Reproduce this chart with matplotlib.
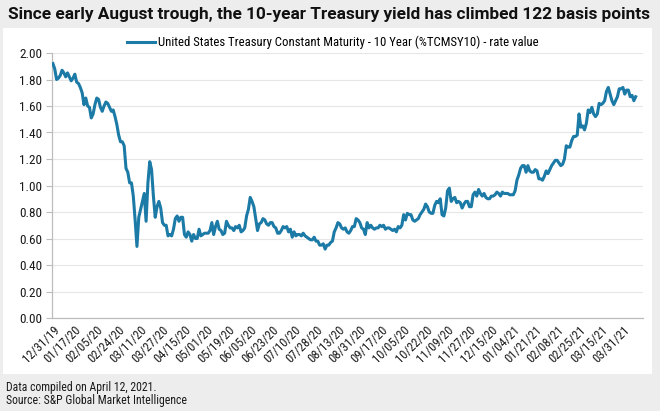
import matplotlib.pyplot as plt
import numpy as np
import pandas as pd

# US 10-year Treasury constant maturity, % (trading days, 12/31/19 - 04/09/21)
start_date = "2019-12-31"
end_date = "2021-04-09"
bond_holidays = [
    "2020-01-01", "2020-01-20", "2020-02-17", "2020-04-10", "2020-05-25",
    "2020-07-03", "2020-09-07", "2020-10-12", "2020-11-11", "2020-11-26",
    "2020-12-25", "2021-01-01", "2021-01-18", "2021-02-15",
]

yields = (
    [1.92]
    # Jan 2020
    + [1.88, 1.80, 1.81, 1.83, 1.87, 1.85, 1.82, 1.85, 1.82, 1.79, 1.81,
       1.84, 1.78, 1.77, 1.74, 1.70, 1.61, 1.66, 1.60, 1.59, 1.51]
    # Feb 2020
    + [1.54, 1.61, 1.66, 1.65, 1.59, 1.56, 1.60, 1.63, 1.62, 1.59, 1.56,
       1.57, 1.52, 1.46, 1.38, 1.33, 1.33, 1.30, 1.13]
    # Mar 2020
    + [1.10, 1.02, 1.02, 0.92, 0.74, 0.54, 0.76, 0.82, 0.88, 0.94, 0.73,
       1.02, 1.18, 1.12, 0.92, 0.76, 0.84, 0.88, 0.83, 0.72, 0.70, 0.70]
    # Apr 2020
    + [0.62, 0.63, 0.62, 0.67, 0.75, 0.77, 0.73, 0.76, 0.76, 0.63, 0.61,
       0.65, 0.63, 0.58, 0.63, 0.60, 0.60, 0.67, 0.62, 0.63, 0.64]
    # May 2020
    + [0.64, 0.64, 0.66, 0.72, 0.63, 0.69, 0.73, 0.67, 0.66, 0.63, 0.64,
       0.73, 0.70, 0.68, 0.68, 0.66, 0.69, 0.68, 0.70, 0.65]
    # Jun 2020
    + [0.66, 0.68, 0.77, 0.82, 0.91, 0.88, 0.84, 0.75, 0.66, 0.71, 0.72,
       0.75, 0.74, 0.71, 0.70, 0.72, 0.72, 0.69, 0.68, 0.64, 0.64, 0.66]
    # Jul 2020
    + [0.69, 0.68, 0.69, 0.65, 0.67, 0.61, 0.65, 0.62, 0.63, 0.63, 0.62,
       0.64, 0.62, 0.61, 0.60, 0.59, 0.59, 0.61, 0.58, 0.58, 0.55, 0.55]
    # Aug 2020
    + [0.56, 0.52, 0.55, 0.55, 0.57, 0.58, 0.65, 0.68, 0.72, 0.71, 0.68,
       0.67, 0.68, 0.65, 0.64, 0.66, 0.69, 0.69, 0.75, 0.74, 0.72]
    # Sep 2020
    + [0.68, 0.67, 0.63, 0.72, 0.68, 0.70, 0.68, 0.67, 0.68, 0.68, 0.70,
       0.69, 0.70, 0.67, 0.68, 0.68, 0.67, 0.66, 0.67, 0.65, 0.69]
    # Oct 2020
    + [0.68, 0.70, 0.78, 0.74, 0.79, 0.78, 0.78, 0.74, 0.73, 0.74, 0.75,
       0.78, 0.80, 0.82, 0.86, 0.84, 0.80, 0.79, 0.79, 0.85, 0.88]
    # Nov 2020
    + [0.87, 0.90, 0.78, 0.77, 0.83, 0.96, 0.98, 0.88, 0.90, 0.91, 0.87,
       0.88, 0.87, 0.83, 0.86, 0.88, 0.88, 0.84, 0.84]
    # Dec 2020
    + [0.93, 0.95, 0.92, 0.97, 0.94, 0.92, 0.94, 0.91, 0.90, 0.90, 0.92,
       0.92, 0.93, 0.95, 0.94, 0.92, 0.95, 0.94, 0.94, 0.94, 0.93, 0.93]
    # Jan 2021
    + [0.93, 0.96, 1.04, 1.08, 1.13, 1.15, 1.15, 1.10, 1.15, 1.11, 1.10,
       1.10, 1.12, 1.11, 1.05, 1.05, 1.04, 1.07, 1.11]
    # Feb 2021
    + [1.09, 1.12, 1.15, 1.17, 1.19, 1.19, 1.17, 1.15, 1.16, 1.20, 1.30,
       1.29, 1.29, 1.34, 1.37, 1.37, 1.38, 1.54, 1.44]
    # Mar 2021
    + [1.45, 1.42, 1.47, 1.57, 1.55, 1.59, 1.54, 1.52, 1.54, 1.62, 1.61,
       1.62, 1.64, 1.71, 1.74, 1.69, 1.64, 1.61, 1.64, 1.67, 1.73, 1.73, 1.74]
    # Apr 2021
    + [1.69, 1.72, 1.72, 1.67, 1.68, 1.64, 1.67]
)

title = "Since early August trough, the 10-year Treasury yield has climbed 122 basis points"
series_label = "United States Treasury Constant Maturity - 10 Year (%TCMSY10) - rate value"
footnotes = ["Data compiled on April 12, 2021.", "Source: S&P Global Market Intelligence"]
yticks = np.arange(0, 2.01, 0.2)
label_every = 12

dates = pd.bdate_range(start_date, end_date, freq="C", holidays=bond_holidays)
assert len(dates) == len(yields), (len(dates), len(yields))
x = np.arange(len(dates))

LINE = "#1b7aa6"
BG = "#ededed"
GRID = "#e6e6e6"
AXIS = "#bdbdbd"
TEXT = "#1a1a1a"
FONT = ["Roboto", "DejaVu Sans"]
NARROW = ["Liberation Sans Narrow", "Roboto Condensed", "DejaVu Sans"]

plt.rcParams["font.family"] = NARROW

fig = plt.figure(figsize=(6.6, 4.11), dpi=100, facecolor=BG)

# white card behind the chart
card = plt.Rectangle((3 / 660, 1 - 374 / 411), 649 / 660, 346 / 411,
                     transform=fig.transFigure, facecolor="white",
                     edgecolor="none", zorder=-1)
fig.patches.append(card)

ax = fig.add_axes([52 / 660, 1 - 318 / 411, 591 / 660, 265 / 411], zorder=1)
ax.set_facecolor("white")
ax.plot(x, yields, color=LINE, lw=2.2, solid_joinstyle="round",
        label=series_label, zorder=3)

ax.set_ylim(0, 2.0)
ax.set_xlim(x[0] - 0.5, x[-1] + 4)
ax.set_yticks(yticks)
ax.set_yticklabels([f"{v:.2f}" for v in yticks])
ax.yaxis.grid(True, color=GRID, lw=0.8)
ax.set_axisbelow(True)

tick_pos = x[::label_every]
ax.set_xticks(tick_pos)
ax.set_xticklabels([d.strftime("%m/%d/%y") for d in dates[::label_every]],
                   rotation=45, ha="right", rotation_mode="anchor")

for side in ("top", "right"):
    ax.spines[side].set_visible(False)
for side in ("left", "bottom"):
    ax.spines[side].set_color(AXIS)
    ax.spines[side].set_linewidth(0.9)
ax.tick_params(axis="y", length=4, color=AXIS, labelsize=9.5,
               labelcolor=TEXT, pad=3)
ax.tick_params(axis="x", length=0, labelsize=9, labelcolor=TEXT, pad=4)

ax.legend(loc="upper center", bbox_to_anchor=(0.475, 1.085), frameon=False,
          fontsize=9.2, handlelength=2.2, handletextpad=0.2, borderaxespad=0)

fig.text(8 / 660, 1 - 15 / 411, title, fontsize=12.4, fontweight="bold",
         va="center", ha="left", color="#111111", family=FONT)
fig.text(6 / 660, 1 - 387 / 411, footnotes[0], fontsize=8.5, va="center",
         ha="left", color=TEXT)
fig.text(6 / 660, 1 - 400 / 411, footnotes[1], fontsize=8.5, va="center",
         ha="left", color=TEXT)

fig.savefig("out.png", dpi=100, facecolor=BG)
